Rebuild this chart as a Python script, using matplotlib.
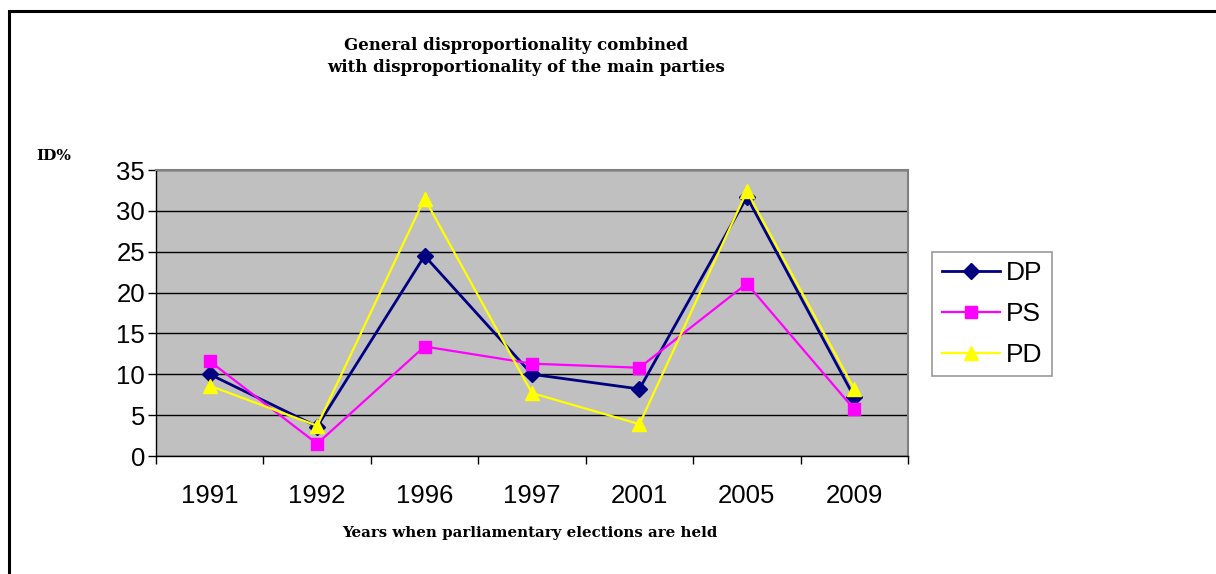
import matplotlib
matplotlib.use("Agg")
import matplotlib.pyplot as plt
from matplotlib.patches import Rectangle

years = ["1991", "1992", "1996", "1997", "2001", "2005", "2009"]
dp = [10.0, 3.6, 24.5, 10.0, 8.2, 31.7, 7.2]
ps = [11.6, 1.5, 13.4, 11.3, 10.8, 21.1, 5.7]
pd_ = [8.6, 3.7, 31.5, 7.7, 3.9, 32.4, 8.2]

W, H = 1216, 574
fig = plt.figure(figsize=(W / 100, H / 100), dpi=100)

# outer chart frame (runs off the right and bottom edges)
fig.patches.append(Rectangle((9 / W, -0.1), 1.2, 1 - 11 / H + 0.1,
                             transform=fig.transFigure, fill=False,
                             edgecolor="black", linewidth=2.2))

ax = fig.add_axes([156 / W, 1 - 456 / H, (908 - 156) / W, (456 - 170) / H])
ax.set_facecolor("#c0c0c0")
x = list(range(len(years)))

ax.plot(x, dp, color="#000080", marker="D", markersize=8, linewidth=2,
        label="DP", zorder=3)
ax.plot(x, ps, color="#ff00ff", marker="s", markersize=8, linewidth=1.6,
        label="PS", zorder=3)
ax.plot(x, pd_, color="#ffff00", marker="^", markersize=10, linewidth=1.6,
        label="PD", zorder=4)

ax.set_xlim(-0.5, len(years) - 0.5)
ax.set_ylim(0, 35)
ax.set_yticks(range(0, 36, 5))
ax.yaxis.grid(True, color="black", linewidth=1)
ax.set_axisbelow(True)

ax.set_xticks([i - 0.5 for i in range(len(years) + 1)])
ax.set_xticklabels([])
ax.set_xticks(x, minor=True)
ax.set_xticklabels(years, minor=True)
ax.tick_params(axis="x", which="major", direction="out", length=6, width=1)
ax.tick_params(axis="x", which="minor", length=0, pad=20)
ax.tick_params(axis="y", direction="out", length=6, width=1, pad=2)
for lab in ax.get_xticklabels(minor=True) + ax.get_yticklabels():
    lab.set_fontfamily("Liberation Sans")
    lab.set_fontsize(18.5)

for side in ("top", "right"):
    ax.spines[side].set_color("#808080")
    ax.spines[side].set_linewidth(1.5)
for side in ("left", "bottom"):
    ax.spines[side].set_color("black")
    ax.spines[side].set_linewidth(1)

leg = fig.legend(loc="upper left", bbox_to_anchor=(932 / W, 1 - 252 / H),
                 frameon=True, fancybox=False, edgecolor="#808080",
                 prop={"family": "Liberation Sans", "size": 19},
                 handlelength=2.2, handletextpad=0.25, labelspacing=0.63,
                 borderpad=0.36, borderaxespad=0)
leg.get_frame().set_linewidth(1.2)

serif = {"family": "DejaVu Serif", "weight": "bold"}
fig.text(516 / W, 1 - 45 / H, "General disproportionality combined",
         ha="center", va="center", size=12, **serif)
fig.text(526 / W, 1 - 68 / H, "with disproportionality of the main parties",
         ha="center", va="center", size=12, **serif)
fig.text(36 / W, 1 - 156 / H, "ID%", ha="left", va="center", size=11, **serif)
fig.text(530 / W, 1 - 533 / H, "Years when parliamentary elections are held",
         ha="center", va="center", size=10.8, **serif)

fig.savefig("out.png", dpi=100)
